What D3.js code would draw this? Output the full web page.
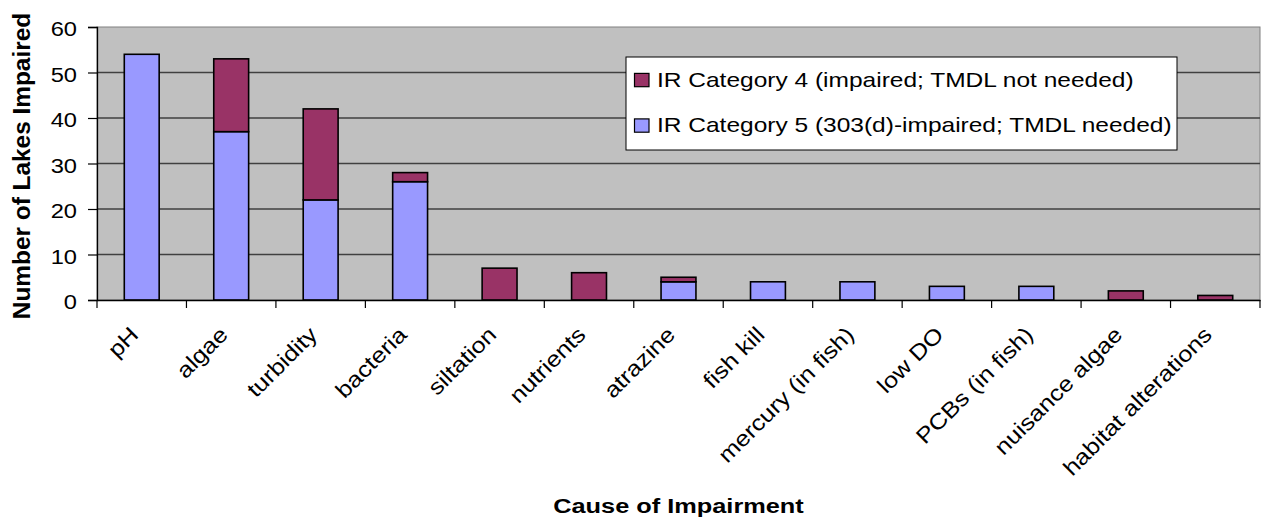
<!DOCTYPE html>
<html><head><meta charset="utf-8">
<script src="https://cdn.jsdelivr.net/npm/d3@7"></script>
<style>
html,body{margin:0;padding:0;background:#fff;}
svg{display:block;font-family:"Liberation Sans",Arial,sans-serif;}
</style></head>
<body><svg id="chart" width="1262" height="522"></svg>
<script>
const categories = ["pH","algae","turbidity","bacteria","siltation","nutrients","atrazine","fish kill","mercury (in fish)","low DO","PCBs (in fish)","nuisance algae","habitat alterations"];
const cat5Values = [54,37,22,26,0,0,4,4,4,3,3,0,0];
const cat4Values = [0,16,20,2,7,6,1,0,0,0,0,2,1];
const seriesNames = ["IR Category 4 (impaired; TMDL not needed)","IR Category 5 (303(d)-impaired; TMDL needed)"];
const yTicks = [0,10,20,30,40,50,60];
const colors = {cat4:"#993366", cat5:"#9999FF"};

const svg = d3.select("#chart");
const m = {left:97, right:1260, top:27, bottom:300};
const x = d3.scaleBand().domain(categories).range([m.left, m.right]).paddingInner(0).paddingOuter(0);
const y = d3.scaleLinear().domain([0,60]).range([m.bottom, m.top]);

// plot background
svg.append("rect").attr("x",m.left).attr("y",m.top).attr("width",m.right-m.left).attr("height",m.bottom-m.top)
  .attr("fill","#C0C0C0").attr("stroke","#808080").attr("stroke-width",1);

// gridlines
svg.append("g").selectAll("line").data(yTicks.filter(d=>d>0 && d<60)).join("line")
  .attr("x1",m.left).attr("x2",m.right).attr("y1",d=>y(d)).attr("y2",d=>y(d))
  .attr("stroke","#404040").attr("stroke-width",1.3);

// bars
const bw = x.bandwidth()*0.39;
const data = categories.map((c,i)=>({c, v5:cat5Values[i], v4:cat4Values[i]}));
const g = svg.append("g");
data.forEach(d=>{
  const cx = x(d.c)+x.bandwidth()/2;
  if(d.v5>0){
    g.append("rect").attr("x",cx-bw/2).attr("width",bw).attr("y",y(d.v5)).attr("height",y(0)-y(d.v5))
      .attr("fill",colors.cat5).attr("stroke","#000").attr("stroke-width",1.6);
  }
  if(d.v4>0){
    g.append("rect").attr("x",cx-bw/2).attr("width",bw).attr("y",y(d.v5+d.v4)).attr("height",y(d.v5)-y(d.v5+d.v4))
      .attr("fill",colors.cat4).attr("stroke","#000").attr("stroke-width",1.6);
  }
});

// y axis
const yAxis = svg.append("g").attr("transform",`translate(${m.left},0)`)
  .call(d3.axisLeft(y).tickValues(yTicks).tickSize(9).tickPadding(11));
yAxis.select(".domain").attr("stroke","#000").attr("stroke-width",1.3);
yAxis.selectAll(".tick line").attr("stroke","#000").attr("stroke-width",1.2);
yAxis.selectAll(".tick text").attr("x",null).attr("dy","0.42em")
  .attr("transform","translate(-20,0) scale(1.15,1)")
  .attr("font-size","20.6px").attr("fill","#000").attr("font-family","Liberation Sans, Arial, sans-serif");

// x axis
const xAxis = svg.append("g").attr("transform",`translate(0,${m.bottom})`)
  .call(d3.axisBottom(x).tickSize(0).tickFormat(""));
xAxis.select(".domain").attr("stroke","#000").attr("stroke-width",1.6);
// category boundary ticks
const bounds = categories.map(c=>x(c)).concat([m.right]);
svg.append("g").selectAll("line").data(bounds).join("line")
  .attr("x1",d=>d).attr("x2",d=>d).attr("y1",m.bottom).attr("y2",m.bottom+8)
  .attr("stroke","#000").attr("stroke-width",1.2);

// x labels
svg.append("g").selectAll("text").data(categories).join("text")
  .attr("transform",d=>`translate(${x(d)+x.bandwidth()/2-2},${m.bottom+36}) rotate(-45) scale(1.15,1)`)
  .attr("text-anchor","end").attr("font-size","22px").attr("fill","#000")
  .text(d=>d);

// axis titles
svg.append("text").attr("transform",`translate(${(m.left+m.right)/2},513) scale(1.23,1)`).attr("text-anchor","middle")
  .attr("font-size","20.6px").attr("font-weight","bold").text("Cause of Impairment");
svg.append("text").attr("transform",`translate(30,166) rotate(-90)`).attr("text-anchor","middle")
  .attr("font-size","24.4px").attr("font-weight","bold").text("Number of Lakes Impaired");

// legend
const lg = svg.append("g");
lg.append("rect").attr("x",626).attr("y",57).attr("width",551).attr("height",93)
  .attr("fill","#fff").attr("stroke","#000").attr("stroke-width",1);
const items = [{name:seriesNames[0], col:colors.cat4},{name:seriesNames[1], col:colors.cat5}];
items.forEach((it,i)=>{
  const base = 86.7 + i*45.5;
  lg.append("rect").attr("x",634.5).attr("y",base-13.3).attr("width",14.5).attr("height",13.3)
    .attr("fill",it.col).attr("stroke","#000").attr("stroke-width",1.2);
  lg.append("text").attr("transform",`translate(657,${base}) scale(1.19,1)`)
    .attr("font-size","20.6px").attr("fill","#000").text(it.name);
});
</script></body></html>
